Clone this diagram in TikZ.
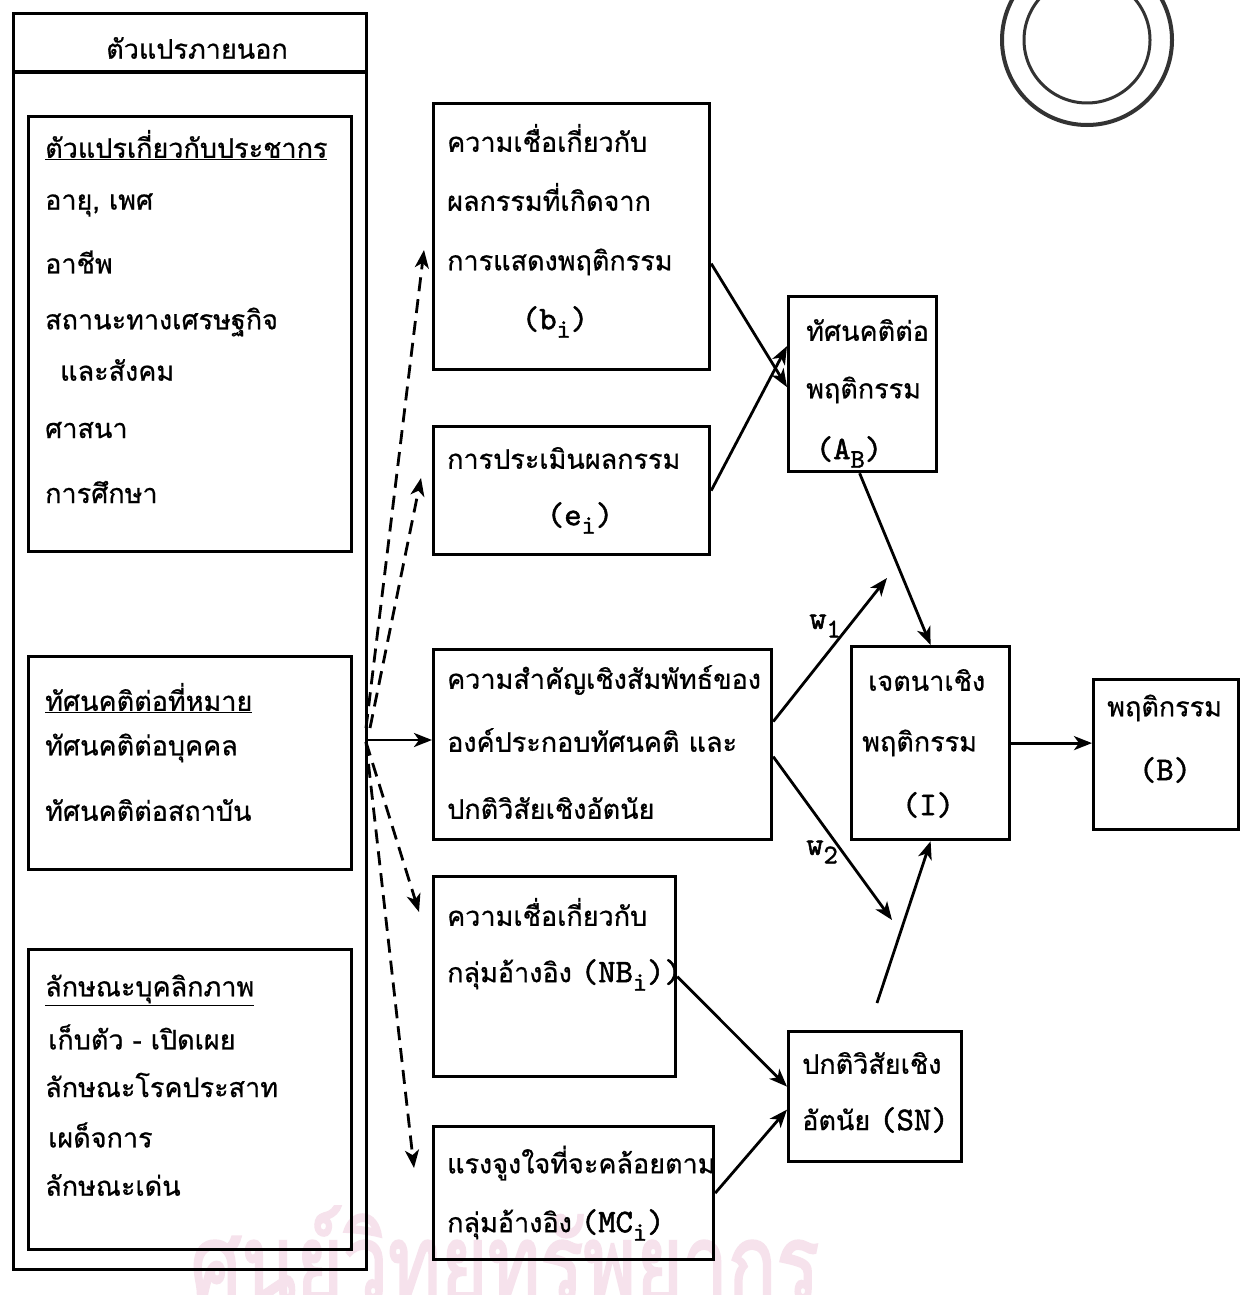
\documentclass[tikz,border=0pt]{standalone}
\usepackage{fontspec}
\setmainfont[Script=Thai,FakeBold=0.7]{Loma}
\newfontfamily\wmfont[Script=Thai,FakeBold=2.5]{Loma}
\newfontfamily\latf[FakeBold=1.6]{lmmono10-regular.otf}
\usetikzlibrary{arrows.meta,calc}
\newcommand\lat{\latf\fontsize{33}{35}\selectfont}
\newcommand\lsub[1]{\raisebox{-0.6ex}{\fontsize{27}{27}\selectfont #1}}
\definecolor{wmpink}{RGB}{246,226,236}
\begin{document}
\begin{tikzpicture}[x=1pt,y=-1pt,
  boxst/.style={draw, line width=3.2pt, inner sep=0pt, anchor=north west},
  txt/.style={anchor=west, inner sep=0pt, font=\fontsize{27}{30}\selectfont},
  ltxt/.style={anchor=center, inner sep=0pt, font=\lat},
  arr/.style={line width=2.8pt, -{Stealth[length=18pt,width=14pt,inset=5pt]}},
  darr/.style={arr, dash pattern=on 14pt off 8pt}]
\useasboundingbox (0,0) rectangle (1247,1295);
\fill[white] (0,0) rectangle (1247,1295);
% watermark
\node[inner sep=0pt, text=wmpink, font=\wmfont\fontsize{80}{80}\selectfont] (wm) at (505,1268) {\scalebox{1}[1.35]{ศูนย์วิทยทรัพยากร}};
% stamp
\draw[line width=4pt, black!80] (1087,40) circle (85);
\draw[line width=3pt, black!80] (1087,40) circle (63);
% left column
\node[boxst, minimum width=353pt, minimum height=1256pt] (outer) at (12,12) {};
\draw[line width=3.2pt] (12,72) -- (365,72);
\node[inner sep=0pt, font=\fontsize{27}{30}\selectfont] (hdr) at (197,48) {ตัวแปรภายนอก};
\node[boxst, minimum width=323pt, minimum height=435pt] (box1) at (27,115) {};
\node[txt] (p1) at (45,145) {\underline{ตัวแปรเกี่ยวกับประชากร}};
\node[txt] (p2) at (45,205) {อายุ, เพศ};
\node[txt] (p3) at (45,262) {อาชีพ};
\node[txt] (p4) at (45,322) {สถานะทางเศรษฐกิจ};
\node[txt] (p5) at (60,370) {และสังคม};
\node[txt] (p6) at (45,430) {ศาสนา};
\node[txt] (p7) at (45,492) {การศึกษา};
\node[boxst, minimum width=323pt, minimum height=213pt] (box2) at (27,655) {};
\node[txt] (q1) at (45,698) {\underline{ทัศนคติต่อที่หมาย}};
\node[txt] (q2) at (45,748) {ทัศนคติต่อบุคคล};
\node[txt] (q3) at (45,810) {ทัศนคติต่อสถาบัน};
\node[boxst, minimum width=323pt, minimum height=300pt] (box3) at (27,948) {};
\node[txt] (r1) at (45,990) {\underline{ลักษณะบุคลิกภาพ}};
\node[txt] (r2) at (48,1037) {เก็บตัว - เปิดเผย};
\node[txt] (r3) at (45,1085) {ลักษณะโรคประสาท};
\node[txt] (r4) at (48,1135) {เผด็จการ};
\node[txt] (r5) at (45,1185) {ลักษณะเด่น};
% middle column
\node[boxst, minimum width=276pt, minimum height=266pt] (b) at (432,102) {};
\node[txt] (b1) at (447,138) {ความเชื่อเกี่ยวกับ};
\node[txt] (b2) at (447,197) {ผลกรรมที่เกิดจาก};
\node[txt] (b3) at (447,262) {การแสดงพฤติกรรม};
\node[ltxt] (b4) at (555,322) {(b\lsub{i})};
\node[boxst, minimum width=276pt, minimum height=128pt] (e) at (432,425) {};
\node[txt] (e1) at (447,458) {การประเมินผลกรรม};
\node[ltxt] (e2) at (580,518) {(e\lsub{i})};
\node[boxst, minimum width=338pt, minimum height=190pt] (rel) at (432,648) {};
\node[txt] (c1) at (447,680) {ความสำคัญเชิงสัมพัทธ์ของ};
\node[txt] (c2) at (447,740) {องค์ประกอบทัศนคติ และ};
\node[txt] (c3) at (447,808) {ปกติวิสัยเชิงอัตนัย};
\node[boxst, minimum width=242pt, minimum height=200pt] (NB) at (432,875) {};
\node[txt] (n1) at (447,912) {ความเชื่อเกี่ยวกับ};
\node[txt] (n2) at (447,975) {กลุ่มอ้างอิง {\lat (NB\lsub{i}))}};
\node[boxst, minimum width=280pt, minimum height=133pt] (MC) at (432,1125) {};
\node[txt] (m1) at (447,1163) {แรงจูงใจที่จะคล้อยตาม};
\node[txt] (m2) at (447,1225) {กลุ่มอ้างอิง {\lat (MC\lsub{i})}};
% right column
\node[boxst, minimum width=148pt, minimum height=175pt] (AB) at (787,295) {};
\node[txt] (a1) at (806,330) {ทัศนคติต่อ};
\node[txt] (a2) at (806,390) {พฤติกรรม};
\node[ltxt] (a3) at (849,452) {(A\lsub{B})};
\node[boxst, minimum width=158pt, minimum height=193pt] (I) at (850,645) {};
\node[txt] (i1) at (868,680) {เจตนาเชิง};
\node[txt] (i2) at (862,743) {พฤติกรรม};
\node[ltxt] (i3) at (928,805) {(I)};
\node[boxst, minimum width=145pt, minimum height=150pt] (B) at (1092,678) {};
\node[txt] (o1) at (1107,708) {พฤติกรรม};
\node[ltxt] (o2) at (1165,770) {(B)};
\node[boxst, minimum width=173pt, minimum height=130pt] (SN) at (787,1030) {};
\node[txt] (s1) at (802,1063) {ปกติวิสัยเชิง};
\node[txt] (s2) at (802,1120) {อัตนัย {\lat (SN)}};
% labels
\node[ltxt] (w1) at (825,626) {w\lsub{1}};
\node[ltxt] (w2) at (822,852) {w\lsub{2}};
% connectors
\draw[arr] ([yshift=-27pt]b.east) -- ([yshift=-3pt]AB.west);
\draw[arr] (e.east) -- ([yshift=38pt]AB.west);
\draw[arr] ([xshift=-3pt]AB.south) -- (I.north);
\coordinate (w1end) at (887,578);
\coordinate (w2end) at (892,920);
\draw[arr] ([yshift=23pt]rel.east) -- (w1end);
\draw[arr] ([yshift=-12pt]rel.east) -- (w2end);
\coordinate (sntop) at (877,1003);
\draw[arr] (sntop) -- (I.south);
\draw[arr] (I.east) -- (I.east -| B.west);
\draw[arr] (NB.east) -- ([yshift=10pt]SN.west);
\draw[arr] (MC.east) -- ([yshift=-13pt]SN.west);
% dashed from outer box
\coordinate (org) at (366,728);
\coordinate (orgb) at (366,740);
\coordinate (db) at (424,250);
\coordinate (de) at (421,478);
\coordinate (dn) at (419,912);
\coordinate (dm) at (414,1168);
\draw[darr] (org) -- (db);
\draw[darr] ([xshift=4pt]org) -- (de);
\draw[darr] ([yshift=-14pt]org) -- (dn);
\draw[darr] ([yshift=-14pt]org) -- (dm);
\draw[arr] (orgb) -- (orgb -| rel.west);
\end{tikzpicture}
\end{document}
